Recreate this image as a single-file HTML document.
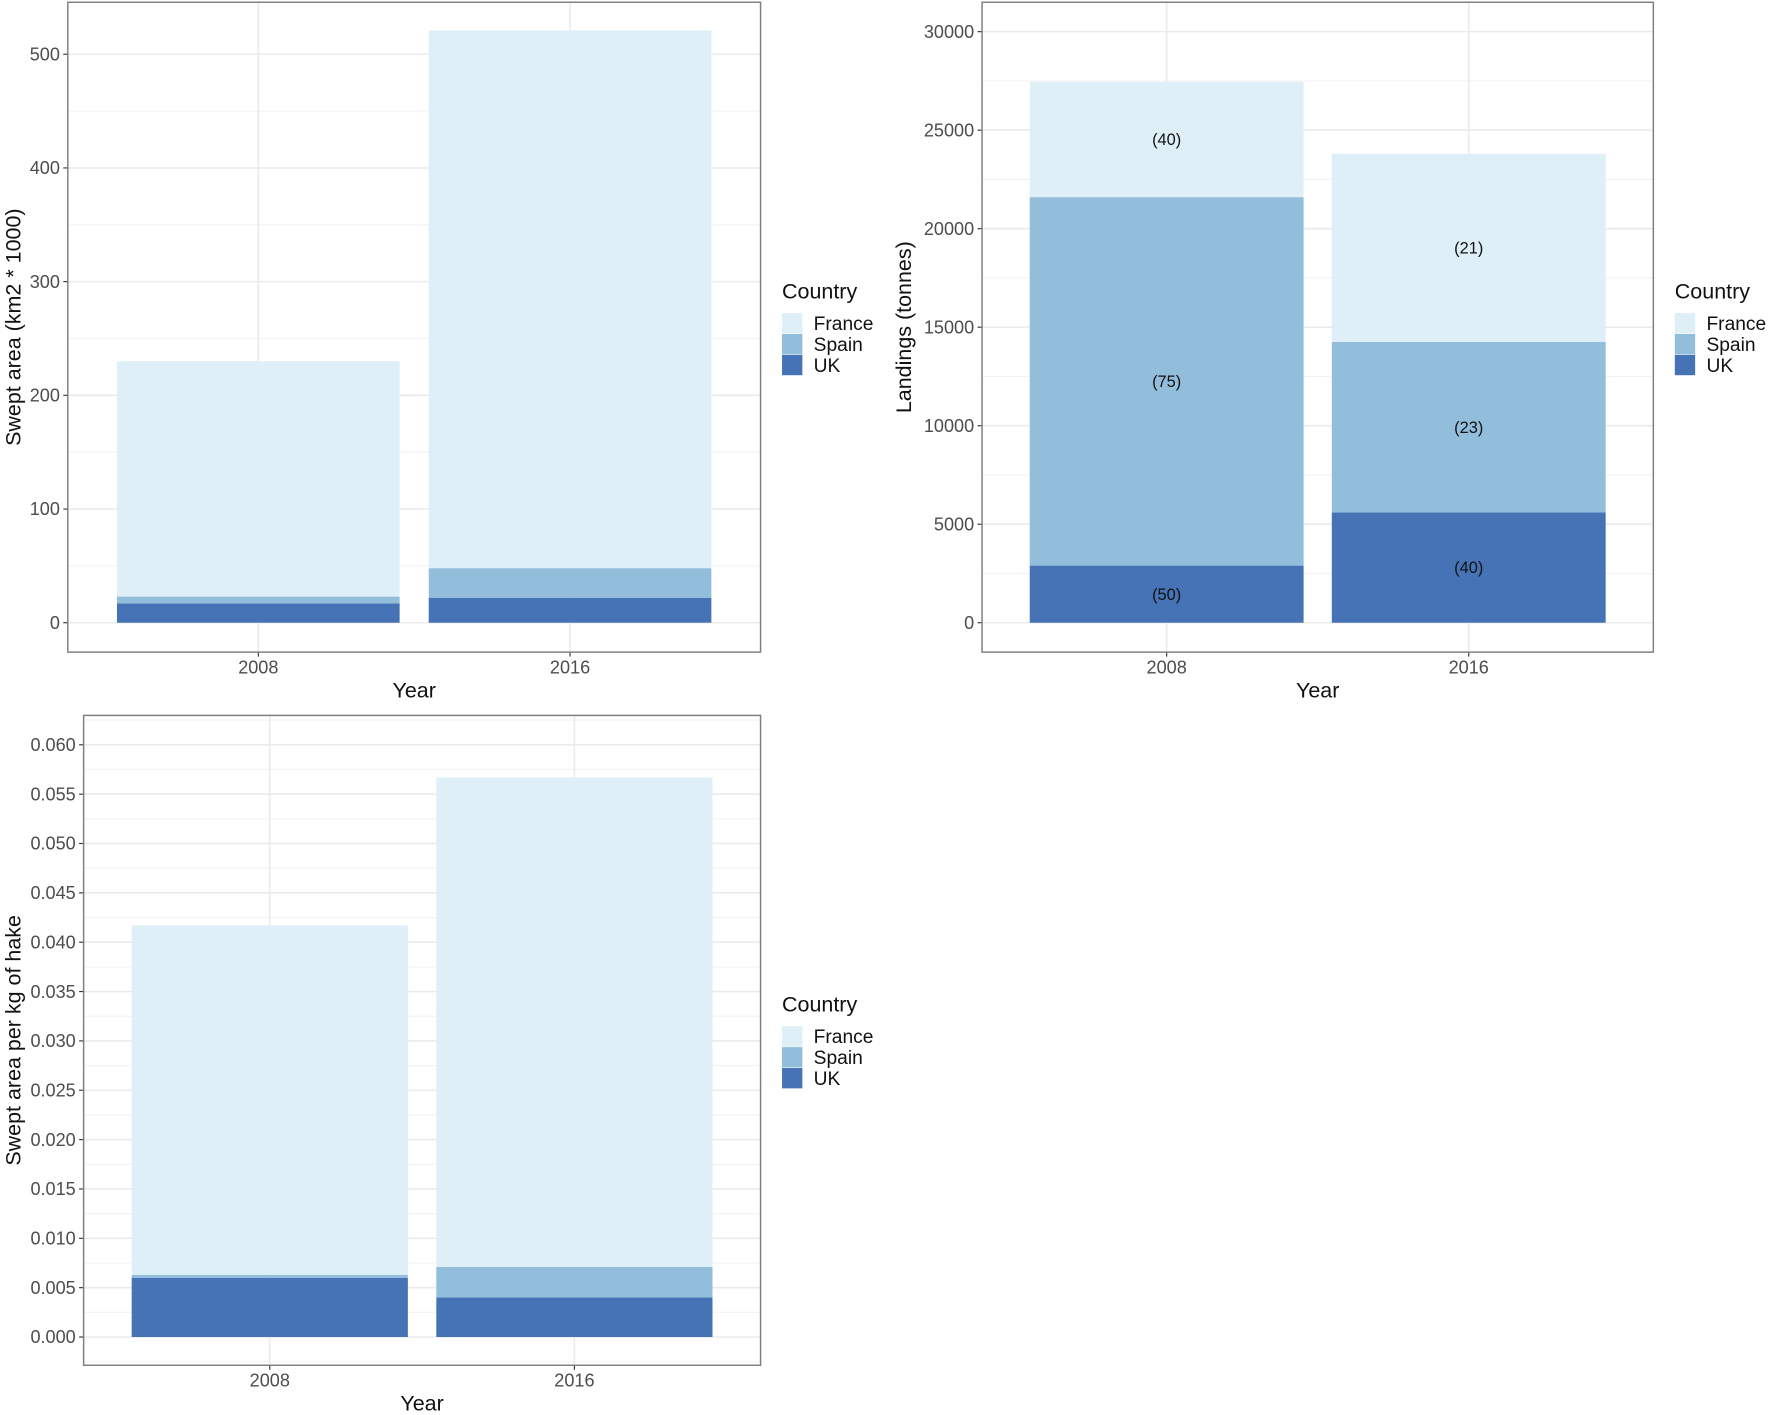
<!DOCTYPE html>
<html><head><meta charset="utf-8"><style>
html,body{margin:0;padding:0;background:#fff;}
svg{display:block;font-family:"Liberation Sans",Arial,sans-serif;}
</style></head><body>
<svg id="fig" width="1772" height="1415" viewBox="0 0 1568 1252" preserveAspectRatio="none" xmlns="http://www.w3.org/2000/svg"></svg>
<script>
const years = ["2008","2016"];
const countries = ["UK","Spain","France"];
const colors = {France:"#deeff7",Spain:"#92bddb",UK:"#4573b5"};
// panel A: swept area (km2*1000)
const sweptUK = [17, 22];
const sweptSpain = [6, 26];
const sweptFrance = [207, 473];
const sweptTicks = [0,100,200,300,400,500];
// panel B: landings (tonnes)
const landUK = [2900, 5600];
const landSpain = [18700, 8650];
const landFrance = [5850, 9550];
const landTicks = [0,5000,10000,15000,20000,25000,30000];
const landLabelsUK = ["(50)","(40)"];
const landLabelsSpain = ["(75)","(23)"];
const landLabelsFrance = ["(40)","(21)"];
// panel C: swept area per kg
const ratioUK = [0.0060, 0.0040];
const ratioSpain = [0.0003, 0.0031];
const ratioFrance = [0.0354, 0.0496];
const ratioTicks = [0,0.005,0.01,0.015,0.02,0.025,0.03,0.035,0.04,0.045,0.05,0.055,0.06];

const NS="http://www.w3.org/2000/svg";
const svg=document.getElementById('fig');
function mk(tag,attrs,parent){const e=document.createElementNS(NS,tag);for(const k in attrs)e.setAttribute(k,attrs[k]);(parent||svg).appendChild(e);return e;}

function panel(o){
  const g=mk('g',{});
  
  
  const y=v=>o.y0-(v-0)*(o.y0-o.yTop)/o.vTop;
  const xc=[o.x0+(o.x1-o.x0)*0.275, o.x0+(o.x1-o.x0)*0.725];
  const bw=(o.x1-o.x0)*0.408;
  const step=o.ticks[1]-o.ticks[0];
  for(let v=-step/2; v<=o.ticks[o.ticks.length-1]+step; v+=step){
    const yy=y(v); if(yy<o.y1t+1||yy>o.y1b-1)continue;
    const l=mk('line',{x1:o.x0,x2:o.x1,y1:yy,y2:yy,stroke:'#f2f2f2','stroke-width':1},g);
    
    
  }
  o.ticks.forEach(v=>{
    const yy=y(v);
    const l=mk('line',{x1:o.x0,x2:o.x1,y1:yy,y2:yy,stroke:'#ebebeb','stroke-width':1.4},g);
    
    
    const tk=mk('line',{x1:o.x0-4,x2:o.x0,y1:yy,y2:yy,stroke:'#333','stroke-width':1},g);
    
    
    const t=mk('text',{x:o.x0-7,y:yy+5.5,'text-anchor':'end','font-size':16,fill:'#4d4d4d'},g);
    t.textContent=o.fmt(v);
    
    
  });
  xc.forEach((c,i)=>{
    const l=mk('line',{x1:c,x2:c,y1:o.y1t,y2:o.y1b,stroke:'#ebebeb','stroke-width':1.4},g);
    
    
  });
  xc.forEach((c,i)=>{
    let base=0;
    o.series.forEach((s,k)=>{
      const v=s.vals[i];
      const r=mk('rect',{x:c-bw/2,y:y(base+v),width:bw,height:y(base)-y(base+v),fill:colors[s.name]},g);
      
      
      if(s.labels){
        const t=mk('text',{x:c,y:y(base+v/2)+5,'text-anchor':'middle','font-size':14.5,fill:'#111'},g);
        t.textContent=s.labels[i];
        
        
      }
      base+=v;
    });
  });
  xc.forEach((c,i)=>{
    const tk=mk('line',{x1:c,x2:c,y1:o.y1b,y2:o.y1b+4,stroke:'#333','stroke-width':1},g);
    
    
    const t=mk('text',{x:c,y:o.y1b+19,'text-anchor':'middle','font-size':16,fill:'#4d4d4d'},g);
    t.textContent=years[i];
    
    
  });
  const b=mk('rect',{x:o.x0,y:o.y1t,width:o.x1-o.x0,height:o.y1b-o.y1t,fill:'none',stroke:'#7f7f7f','stroke-width':1.3},g);
  
  
  const xt=mk('text',{x:(o.x0+o.x1)/2,y:o.y1b+40,'text-anchor':'middle','font-size':19,fill:'#111'},g);
  xt.textContent='Year';
  
  
  const ym=(o.y1t+o.y1b)/2;
  const yt=mk('text',{x:o.ytx,y:ym,'text-anchor':'middle','font-size':19,fill:'#111',transform:`rotate(-90 ${o.ytx} ${ym})`},g);
  yt.textContent=o.ytitle;
  
  
  const lg=mk('g',{},g);
  
  
  const lt=mk('text',{x:o.lx,y:o.ly,'font-size':19,fill:'#111'},lg);
  lt.textContent='Country';
  
  
  ["France","Spain","UK"].forEach((n,k)=>{
    const ry=o.ly+13+k*18.5;
    const r=mk('rect',{x:o.lx,y:ry,width:18,height:18,fill:colors[n]},lg);
    
    
    const t=mk('text',{x:o.lx+28,y:ry+15,'font-size':17,fill:'#111'},lg);
    t.textContent=n;
    
    
  });
}

panel({name:'swept-area-panel',x0:60,x1:673,y1t:2,y1b:577,y0:551,yTop:48,vTop:500,ticks:sweptTicks,fmt:v=>String(v),
  series:[{name:'UK',vals:sweptUK},{name:'Spain',vals:sweptSpain},{name:'France',vals:sweptFrance}],
  ytitle:'Swept area (km2 * 1000)',ytx:18,lx:692,ly:264});
panel({name:'landings-panel',x0:869,x1:1463,y1t:2,y1b:577,y0:551,yTop:28,vTop:30000,ticks:landTicks,fmt:v=>String(v),
  series:[{name:'UK',vals:landUK,labels:landLabelsUK},{name:'Spain',vals:landSpain,labels:landLabelsSpain},{name:'France',vals:landFrance,labels:landLabelsFrance}],
  ytitle:'Landings (tonnes)',ytx:806,lx:1482,ly:264});
panel({name:'swept-per-kg-panel',x0:74,x1:673,y1t:633,y1b:1208,y0:1183,yTop:659,vTop:0.06,ticks:ratioTicks,fmt:v=>v.toFixed(3),
  series:[{name:'UK',vals:ratioUK},{name:'Spain',vals:ratioSpain},{name:'France',vals:ratioFrance}],
  ytitle:'Swept area per kg of hake',ytx:18,lx:692,ly:895});
</script>
</body></html>
